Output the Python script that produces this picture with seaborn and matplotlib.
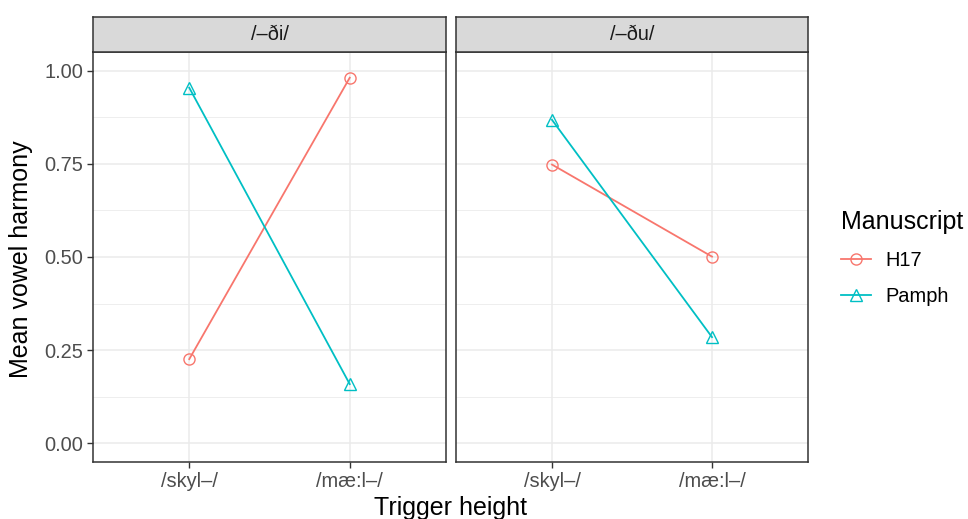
import pandas as pd
import matplotlib.pyplot as plt
import seaborn as sns
from matplotlib.lines import Line2D

# values
triggers = ["/skyl–/", "/mæ:l–/"]
suffixes = ["/–ði/", "/–ðu/"]
h17_di = [0.226, 0.981]
pamph_di = [0.954, 0.159]
h17_du = [0.748, 0.501]
pamph_du = [0.868, 0.285]
manuscripts = ["H17", "Pamph"]
colors = {"H17": "#F8766D", "Pamph": "#00BFC4"}
markers = {"H17": "o", "Pamph": "^"}

rows = []
for suf, h, p in [(suffixes[0], h17_di, pamph_di), (suffixes[1], h17_du, pamph_du)]:
    for i, t in enumerate(triggers):
        rows.append({"suffix": suf, "trigger": t, "Manuscript": "H17", "harmony": h[i]})
        rows.append({"suffix": suf, "trigger": t, "Manuscript": "Pamph", "harmony": p[i]})
df = pd.DataFrame(rows)
df["pos"] = df["trigger"].map({t: i for i, t in enumerate(triggers)})

plt.rcParams["font.family"] = ["Liberation Sans", "DejaVu Sans"]
fig = plt.figure(figsize=(9.68, 5.19), dpi=100)

W, H = 968, 519
panels = [(93, 446), (456, 808)]
top, bot, strip_top = 52, 462, 17
small, big = 14.4, 18

for k, (x0, x1) in enumerate(panels):
    ax = fig.add_axes([x0 / W, 1 - bot / H, (x1 - x0) / W, (bot - top) / H])
    sub = df[df["suffix"] == suffixes[k]]
    for m in manuscripts:
        d = sub[sub["Manuscript"] == m]
        sns.lineplot(data=d, x="pos", y="harmony", ax=ax, color=colors[m],
                     marker=markers[m], markersize=8, mfc="none", mec=colors[m],
                     mew=1.0, lw=1.3, legend=False)
    ax.set_xlim(-0.6, 1.6)
    ax.set_ylim(-0.05, 1.05)
    ax.set_xticks(range(len(triggers)))
    ax.set_xticklabels(triggers)
    ax.set_yticks([0, 0.25, 0.5, 0.75, 1.0])
    ax.set_yticks([0.125, 0.375, 0.625, 0.875], minor=True)
    ax.grid(True, which="major", color="#EBEBEB", lw=1.1)
    ax.grid(True, which="minor", axis="y", color="#EBEBEB", lw=0.6)
    ax.set_axisbelow(True)
    for s in ax.spines.values():
        s.set_color("#333333")
        s.set_linewidth(1.1)
    ax.tick_params(axis="both", which="major", labelsize=small, colors="#333333",
                   labelcolor="#4D4D4D", length=4, width=1, pad=3)
    ax.tick_params(axis="both", which="minor", length=0)
    ax.set_xlabel("")
    ax.set_ylabel("")
    if k == 0:
        ax.set_yticklabels(["0.00", "0.25", "0.50", "0.75", "1.00"])
    else:
        ax.tick_params(axis="y", labelleft=False, length=0)

    # facet strip
    sax = fig.add_axes([x0 / W, 1 - top / H, (x1 - x0) / W, (top - strip_top) / H])
    sax.set_xticks([])
    sax.set_yticks([])
    sax.set_facecolor("#D9D9D9")
    for s in sax.spines.values():
        s.set_color("#333333")
        s.set_linewidth(1.1)
    sax.text(0.5, 0.5, suffixes[k], ha="center", va="center", fontsize=small,
             color="#1A1A1A", transform=sax.transAxes)

fig.text(451 / W, 1 - 508 / H, "Trigger height", ha="center", va="center", fontsize=big)
fig.text(21 / W, 1 - 259 / H, "Mean vowel harmony", ha="center", va="center",
         rotation=90, fontsize=big)

handles = [Line2D([], [], color=colors[m], marker=markers[m], mfc="none",
                  mec=colors[m], markersize=8, lw=1.3) for m in manuscripts]
leg = fig.legend(handles, manuscripts, title="Manuscript", loc="upper left",
                 bbox_to_anchor=(833 / W, 1 - 202 / H), frameon=False,
                 fontsize=small, title_fontsize=big, handlelength=1.5,
                 handletextpad=0.7, labelspacing=0.85, borderaxespad=0)
leg._legend_box.align = "left"

fig.savefig("out.png", dpi=100)
